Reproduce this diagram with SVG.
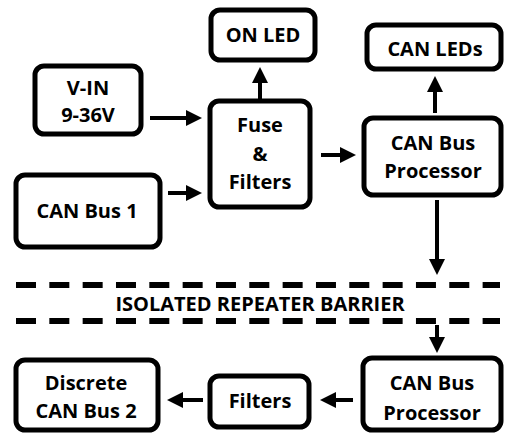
<svg xmlns="http://www.w3.org/2000/svg" width="506" height="433" viewBox="0 0 506 433">
<style>
.box{fill:#fff;stroke:#000;stroke-width:5}
.t{font-family:"Open Sans","Liberation Sans",sans-serif;font-weight:bold;font-size:20px;fill:#000;text-anchor:middle}
.c{fill:none;stroke:#000;stroke-width:4}
.dash{fill:none;stroke:#000;stroke-width:6;stroke-dasharray:20 13.33}
</style>
<defs>
<marker id="ah" markerUnits="userSpaceOnUse" markerWidth="16" markerHeight="16" refX="0" refY="8" orient="auto">
<path d="M0,0 L16,8 L0,16 z" fill="#000"/>
</marker>
</defs>
<rect width="506" height="433" fill="#fff"/>
<g id="on-led"><rect class="box" x="211" y="10" width="104" height="50" rx="9"/><text class="t" x="263" y="42">ON LED</text></g>
<g id="can-leds"><rect class="box" x="367" y="25" width="134" height="44" rx="9"/><text class="t" x="435" y="56">CAN LEDs</text></g>
<g id="v-in"><rect class="box" x="35" y="66" width="106" height="68" rx="9"/><text class="t" x="88" y="95">V-IN</text><text class="t" x="88" y="122">9-36V</text></g>
<g id="fuse"><rect class="box" x="210" y="101" width="100" height="106" rx="9"/><text class="t" x="260" y="132">Fuse</text><text class="t" x="260" y="161">&amp;</text><text class="t" x="260" y="189">Filters</text></g>
<g id="can-bus-1"><rect class="box" x="16" y="175" width="144" height="72" rx="9"/><text class="t" x="87" y="218">CAN Bus 1</text></g>
<g id="proc-1"><rect class="box" x="364" y="118" width="137" height="77" rx="9"/><text class="t" x="433" y="150">CAN Bus</text><text class="t" x="433" y="178">Processor</text></g>
<g id="barrier"><line class="dash" x1="16" y1="285" x2="500" y2="285"/><line class="dash" x1="16" y1="321" x2="500" y2="321"/><text class="t" x="260" y="311">ISOLATED REPEATER BARRIER</text></g>
<g id="discrete"><rect class="box" x="16" y="360" width="142" height="70" rx="9"/><text class="t" x="86" y="390">Discrete</text><text class="t" x="86" y="418">CAN Bus 2</text></g>
<g id="filters"><rect class="box" x="210" y="376" width="99" height="51" rx="9"/><text class="t" x="260" y="408">Filters</text></g>
<g id="proc-2"><rect class="box" x="363" y="358" width="138" height="72" rx="9"/><text class="t" x="432" y="390">CAN Bus</text><text class="t" x="432" y="420">Processor</text></g>
<g id="connectors">
<path class="c" d="M150,118 H186" marker-end="url(#ah)"/>
<path class="c" d="M168,193 H186" marker-end="url(#ah)"/>
<path class="c" d="M260,99 V83" marker-end="url(#ah)"/>
<path class="c" d="M321,155 H340" marker-end="url(#ah)"/>
<path class="c" d="M435,113 V92" marker-end="url(#ah)"/>
<path class="c" d="M437,200 V259" marker-end="url(#ah)"/>
<path class="c" d="M437,325 V337" marker-end="url(#ah)"/>
<path class="c" d="M353,400 H336" marker-end="url(#ah)"/>
<path class="c" d="M203,400 H183" marker-end="url(#ah)"/>
</g>
</svg>
